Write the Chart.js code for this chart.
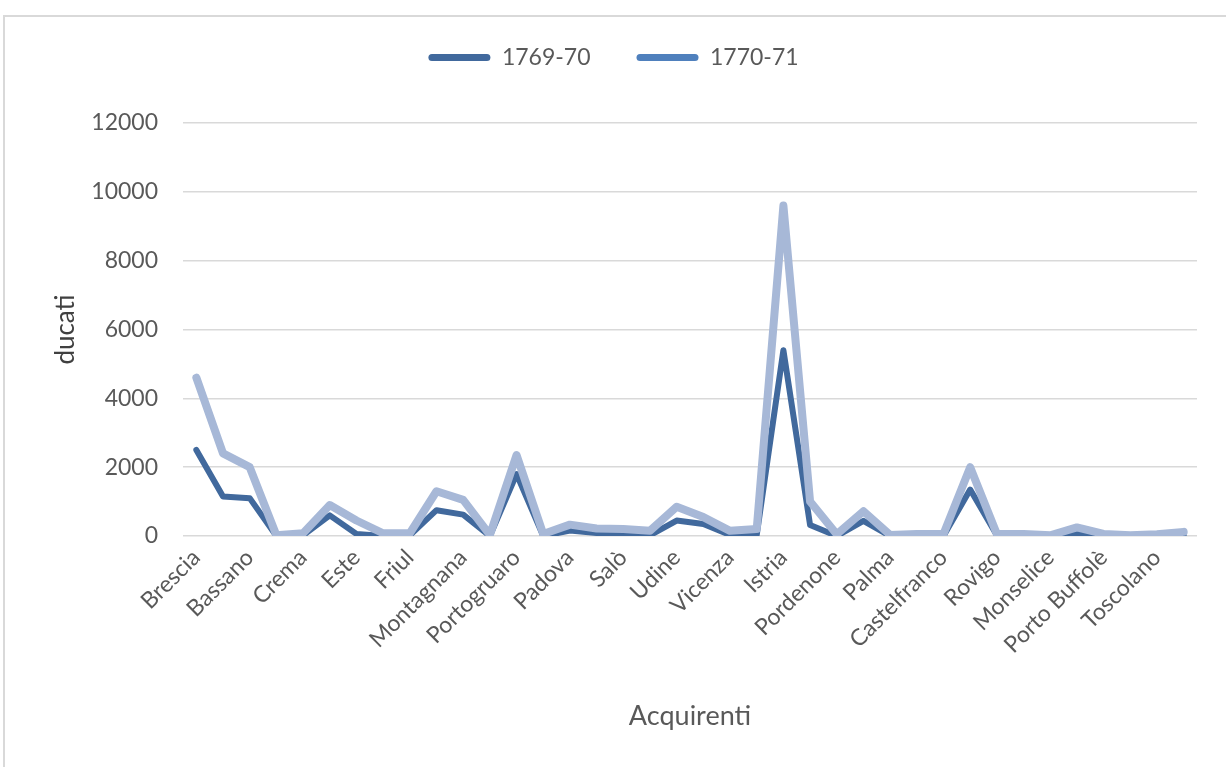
<!DOCTYPE html>
<html lang="it">
<head>
<meta charset="utf-8">
<title>Acquirenti – ducati 1769-70 / 1770-71</title>
<script src="https://cdn.jsdelivr.net/npm/chart.js@4.4.1/dist/chart.umd.min.js"></script>
<style>
  html, body { margin: 0; padding: 0; background: #ffffff; }
  #wrap { position: relative; width: 1226px; height: 767px; overflow: hidden; background: #ffffff; }
  #frame { position: absolute; left: 3px; top: 15px; width: 1300px; height: 800px;
           border-top: 2px solid #d9d9d9; border-left: 2px solid #d9d9d9; box-sizing: border-box; }
  #c { position: absolute; left: 0; top: 0; }
</style>
</head>
<body>
<div id="wrap">
  <div id="frame"></div>
  <canvas id="c" width="1226" height="767"></canvas>
</div>
<script>
// Buyers (every other one is named on the axis)
const categories = [
  'Brescia', '', 'Bassano', '', 'Crema', '', 'Este', '', 'Friul', '',
  'Montagnana', '', 'Portogruaro', '', 'Padova', '', 'Salò', '', 'Udine', '',
  'Vicenza', '', 'Istria', '', 'Pordenone', '', 'Palma', '', 'Castelfranco', '',
  'Rovigo', '', 'Monselice', '', 'Porto Buffolè', '', 'Toscolano', ''
];

// Amounts in ducati
const values1769 = [
  2500, 1150, 1100, 0, 20, 600, 60, 0, 20, 750,
  620, 0, 1800, 0, 160, 90, 60, 20, 450, 350,
  30, 30, 5400, 320, 0, 440, 0, 0, 0, 1350,
  20, 20, 0, 80, 0, 0, 10, 30
];
const values1770 = [
  4600, 2400, 2000, 20, 80, 900, 450, 80, 80, 1300,
  1050, 30, 2350, 60, 330, 220, 200, 150, 850, 550,
  150, 200, 9600, 1000, 50, 720, 30, 60, 60, 2000,
  60, 60, 20, 250, 60, 20, 50, 120
];

const seriesNames = ['1769-70', '1770-71'];
const yTicks = [0, 2000, 4000, 6000, 8000, 10000, 12000];

const FONT = 'Lato, "Open Sans", "Noto Sans", sans-serif';
const TEXT = '#595959';
const lineColors = ['#41699d', '#a7b8d7'];
const legendColors = ['#41699d', '#4f80bd'];

// Extra room under the legend before the plot starts
const legendGap = {
  id: 'legendGap',
  beforeInit(chart) {
    const fit = chart.legend.fit;
    chart.legend.fit = function () {
      fit.call(this);
      this.height += 44;
    };
  }
};

new Chart(document.getElementById('c'), {
  type: 'line',
  data: {
    labels: categories,
    datasets: [
      {
        label: seriesNames[0],
        data: values1769,
        borderColor: lineColors[0],
        backgroundColor: lineColors[0],
        borderWidth: 6,
        order: 1
      },
      {
        label: seriesNames[1],
        data: values1770,
        borderColor: lineColors[1],
        backgroundColor: lineColors[1],
        borderWidth: 8,
        order: 0
      }
    ]
  },
  options: {
    responsive: false,
    animation: false,
    devicePixelRatio: 1,
    layout: { padding: { top: 0, left: 30, right: 29, bottom: 0 } },
    elements: {
      line: { tension: 0, borderCapStyle: 'round', borderJoinStyle: 'round', fill: false },
      point: { radius: 0, hoverRadius: 0 }
    },
    plugins: {
      tooltip: { enabled: false },
      legend: {
        position: 'top',
        align: 'center',
        labels: {
          color: TEXT,
          font: { family: FONT, size: 23 },
          boxWidth: 62,
          boxHeight: 7,
          padding: 46,
          useBorderRadius: true,
          borderRadius: 3.5,
          generateLabels(chart) {
            return chart.data.datasets.map((ds, i) => ({
              text: ds.label,
              fillStyle: legendColors[i],
              strokeStyle: legendColors[i],
              lineWidth: 0,
              hidden: false,
              datasetIndex: i,
              fontColor: TEXT,
              borderRadius: 3.5
            }));
          }
        }
      }
    },
    scales: {
      x: {
        type: 'category',
        offset: true,
        grid: { display: false, drawTicks: false },
        border: { display: false },
        ticks: {
          autoSkip: false,
          minRotation: 45,
          maxRotation: 45,
          padding: 8,
          color: TEXT,
          font: { family: FONT, size: 23 }
        },
        title: {
          display: true,
          text: 'Acquirenti',
          color: TEXT,
          font: { family: FONT, size: 27 },
          padding: { top: 0, bottom: 35 }
        },
        afterFit(scale) { scale.height = 231; }
      },
      y: {
        min: 0,
        max: 12000,
        afterBuildTicks(scale) { scale.ticks = yTicks.map(v => ({ value: v })); },
        grid: { color: '#d9d9d9', lineWidth: 1.5, drawTicks: false },
        border: { display: false },
        ticks: {
          padding: 25,
          color: TEXT,
          font: { family: FONT, size: 23 },
          callback: (v) => String(v)
        },
        title: {
          display: true,
          text: 'ducati',
          color: '#404040',
          font: { family: FONT, size: 26 },
          padding: { top: 20, bottom: 0 }
        },
        afterFit(scale) { scale.width = 153; }
      }
    }
  },
  plugins: [legendGap]
});
</script>
</body>
</html>
